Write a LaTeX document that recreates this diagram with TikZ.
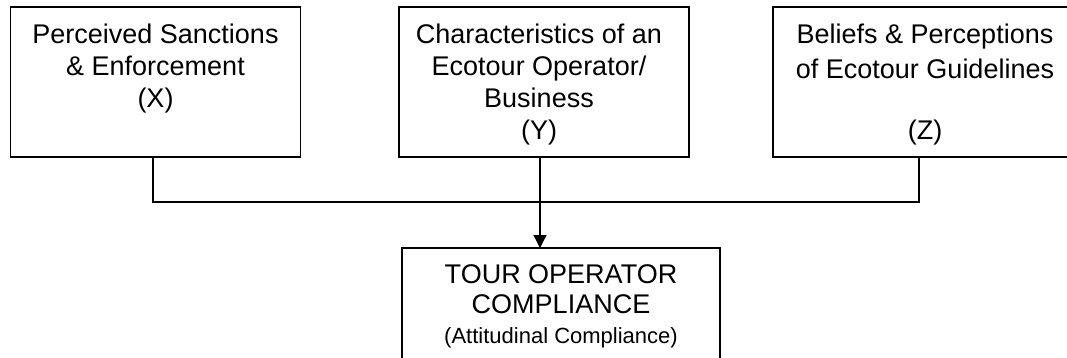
\documentclass[tikz,border=0pt]{standalone}
\usepackage{fontspec}
\setmainfont{Liberation Sans}
\usetikzlibrary{arrows.meta}
\begin{document}
\begin{tikzpicture}[x=1pt,y=-1pt,
  box/.style={draw=black,line width=1.3pt,outer sep=0pt,inner sep=0pt,anchor=north west},
  boxtext/.style={inner sep=0pt,align=center,anchor=north,font=\fontsize{27}{32}\selectfont},
  link/.style={draw=black,line width=1.3pt},
  tip/.style={-{Triangle[length=13pt,width=13pt]}}]
\useasboundingbox (0,0) rectangle (1067,358);

% the three factor boxes
\node[box,minimum width=290pt,minimum height=150pt] (bx) at (10.5,7) {};
\node[box,minimum width=290pt,minimum height=150pt] (by) at (399,7) {};
\node[box,minimum width=304pt,minimum height=150pt] (bz) at (773,7) {};
% the outcome box
\node[box,minimum width=318pt,minimum height=125pt] (bc) at (402,248) {};

% box texts
\node[boxtext] (tx) at (155.5,24) {Perceived Sanctions\\ \& Enforcement\\ (X)};
\node[boxtext] (ty) at (539,24) {Characteristics of an\\ Ecotour Operator/\\ Business\\ (Y)};
\node[boxtext] (tz) at (925,24) {Beliefs \& Perceptions\\[3pt] of Ecotour Guidelines\\[29pt] (Z)};
\node[boxtext,font=\fontsize{27}{30}\selectfont] (tc) at (561,264)
  {TOUR OPERATOR\\ COMPLIANCE\\ {\fontsize{22}{29}\selectfont (Attitudinal Compliance)}};

% connectors
\coordinate (jx) at (153,202);
\coordinate (jy) at (540,202);
\coordinate (jz) at (919,202);
\draw[link] (jx |- bx.south) -- (jx) -- (jz) -- (jz |- bz.south);
\draw[link,tip] (jy |- by.south) -- (jy |- bc.north);
\end{tikzpicture}
\end{document}
